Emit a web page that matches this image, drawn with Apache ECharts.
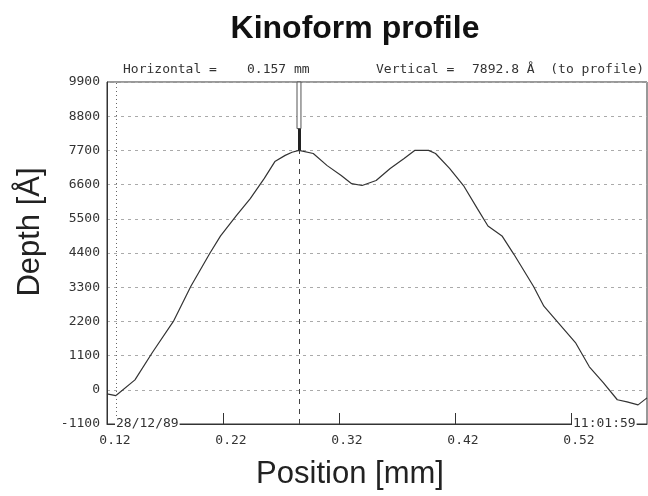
<!DOCTYPE html>
<html>
<head>
<meta charset="utf-8">
<script src="https://cdn.jsdelivr.net/npm/echarts@6/dist/echarts.min.js"></script>
<style>html,body{margin:0;padding:0;background:#fff}#c{width:648px;height:496px}</style>
</head>
<body>
<div id="c"></div>
<script>
// Profile data
const positionMm = [0.1200,0.1275,0.1441,0.1591,0.1772,0.1923,0.2088,0.2179,0.2315,0.2435,0.2556,0.2647,0.2736,0.2795,0.2855,0.2978,0.3098,0.3219,0.3309,0.3399,0.3520,0.3641,0.3761,0.3852,0.3972,0.4032,0.4153,0.4273,0.4394,0.4484,0.4605,0.4709,0.4876,0.4966,0.5087,0.5238,0.5358,0.5478,0.5599,0.5683,0.5778,0.5855];
const depthA = [-130,-190,320,1200,2200,3330,4400,4950,5600,6150,6800,7340,7540,7640,7700,7600,7210,6890,6630,6570,6730,7120,7440,7700,7700,7600,7120,6570,5820,5270,4950,4350,3330,2690,2170,1520,740,230,-320,-390,-485,-260];
const xTickLabels = [0.12,0.22,0.32,0.42,0.52];
const xTickMarks = [0.22,0.32,0.42,0.52];
const refCursorX = 0.128;
const measCursorX = 0.2855;
const measCursorY = 7700;
const cursorHandleY = [8400, 9900];
const headerTexts = ['Horizontal =', '0.157 mm', 'Vertical =', '7892.8 Å  (to profile)'];
const stampTexts = ['28/12/89', '11:01:59'];

const mono = '"DejaVu Sans Mono", "Liberation Mono", monospace';
const chart = echarts.init(document.getElementById('c'), null, {renderer:'canvas'});
const data = positionMm.map((x,i)=>[x, depthA[i]]);
const xMin = 0.12, xMax = 0.5855;

chart.setOption({
  animation:false,
  backgroundColor:'#fff',
  title:{
    text:'Kinoform profile', left:350, top:8, textAlign:'center',
    textStyle:{fontFamily:'"Liberation Sans", Arial, sans-serif', fontWeight:'bold', fontSize:32, color:'#111'}
  },
  grid:{left:107, right:1, top:82, bottom:72, show:true, borderColor:'#333', borderWidth:1, backgroundColor:'transparent'},
  xAxis:{
    type:'value', min:xMin, max:xMax,
    axisLine:{show:true, onZero:false, lineStyle:{color:'#333', width:1}},
    axisTick:{show:true, inside:true, length:11, customValues:xTickMarks, lineStyle:{color:'#333'}},
    axisLabel:{customValues:xTickLabels, formatter:v=>v.toFixed(2), fontFamily:mono, fontSize:13, color:'#333', margin:10, padding:[0,0,0,16]},
    splitLine:{show:false}
  },
  yAxis:{
    type:'value', min:-1100, max:9900, interval:1100,
    axisLine:{show:true, lineStyle:{color:'#333'}},
    axisTick:{show:false},
    axisLabel:{formatter:v=>String(v), fontFamily:mono, fontSize:13, color:'#333', margin:7},
    splitLine:{show:true, lineStyle:{color:'#aaa', type:[3,4], width:1}}
  },
  series:[{
    type:'line', data:data, symbol:'none', smooth:false,
    lineStyle:{color:'#333', width:1.2},
    markLine:{
      symbol:'none', silent:true, label:{show:false},
      data:[
        [{coord:[refCursorX,-1100], lineStyle:{color:'#666', type:[1,3], width:1}}, {coord:[refCursorX,9900]}],
        [{coord:[measCursorX,-1100], lineStyle:{color:'#444', type:[5,5], width:1}}, {coord:[measCursorX,measCursorY]}],
        [{coord:[measCursorX,measCursorY], lineStyle:{color:'#222', type:'solid', width:3}}, {coord:[measCursorX,cursorHandleY[0]]}]
      ]
    },
    markArea:{
      silent:true,
      data:[[{coord:[measCursorX-0.0017,cursorHandleY[0]], itemStyle:{color:'#fff', borderColor:'#555', borderWidth:1}}, {coord:[measCursorX+0.0017,cursorHandleY[1]]}]]
    }
  }],
  graphic:[
    {type:'text', left:123, top:63, style:{text:headerTexts[0], font:'13px '+mono, fill:'#333'}},
    {type:'text', left:247, top:63, style:{text:headerTexts[1], font:'13px '+mono, fill:'#333'}},
    {type:'text', left:376, top:63, style:{text:headerTexts[2], font:'13px '+mono, fill:'#333'}},
    {type:'text', left:472, top:63, style:{text:headerTexts[3], font:'13px '+mono, fill:'#333'}},
    {type:'text', left:115, top:416, z:100, style:{text:stampTexts[0], font:'13px '+mono, fill:'#333', backgroundColor:'#fff', padding:[1,1]}},
    {type:'text', left:572, top:416, z:100, style:{text:stampTexts[1], font:'13px '+mono, fill:'#333', backgroundColor:'#fff', padding:[1,1]}},
    {type:'text', x:30, y:232, rotation:Math.PI/2, style:{text:'Depth [Å]', font:'31px "Liberation Sans", Arial, sans-serif', fill:'#222', align:'center', verticalAlign:'middle'}},
    {type:'text', x:350, y:474, style:{text:'Position [mm]', font:'31px "Liberation Sans", Arial, sans-serif', fill:'#222', align:'center', verticalAlign:'middle'}}
  ]
});
</script>
</body>
</html>
